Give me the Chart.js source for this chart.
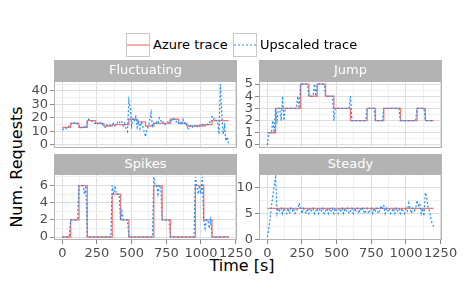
<!DOCTYPE html>
<html>
<head>
<meta charset="utf-8">
<script src="https://cdn.jsdelivr.net/npm/chart.js@4.4.1/dist/chart.umd.min.js"></script>
<style>
  html, body { margin: 0; padding: 0; background: #fff; }
  #fig { position: relative; width: 465px; height: 291px; overflow: hidden; font-family: 'DejaVu Sans', sans-serif; }
  #fig canvas { position: absolute; }
  .strip { position: absolute; background: #b3b3b3; color: #fff; font-size: 13px; text-align: center; z-index: 2; }
  .title { position: absolute; font-size: 16px; color: #000; white-space: nowrap; }
  .key { position: absolute; }
  .keytext { position: absolute; font-size: 13px; color: #000; line-height: 24px; white-space: nowrap; }
</style>
</head>
<body>
<div id="fig">
  <div class="title" id="ytitle" style="left:16px;top:167px;transform:translate(-50%,-50%) rotate(-90deg);">Num. Requests</div>
  <div class="title" style="left:242px;top:265px;transform:translate(-50%,-50%);">Time [s]</div>
</div>
<script>
// series names + colours
const seriesNames = ['Azure trace', 'Upscaled trace'];
const azureColor = '#F8766D';
const upscaledColor = '#1E90FF';

// shared time axis
const timeTicks = [0, 250, 500, 750, 1000, 1250];
const timeMinor = [125, 375, 625, 875, 1125];
const azureStep = 60;     // azure trace: one value per minute
const upscaledStep = 10;  // upscaled trace: one value per 10 s

// Fluctuating
const fluctAzure = [13, 16, 13, 18, 16, 14, 15, 15, 19, 17, 14, 16, 16, 19, 16, 14, 14, 15, 18, 18];
const fluctUpscaled = [
  11, 12, 13, 12, 13, 14,   15, 16, 17, 16, 15, 16,   14, 12, 13, 12, 14, 13,
  17, 19, 18, 18, 17, 16,   16, 17, 15, 16, 17, 15,   14, 13, 15, 14, 15, 14,
  15, 16, 14, 15, 17, 16,   18, 17, 14, 16, 12, 10,   33, 27, 14, 20, 18, 21,
  13, 17, 12, 17, 14, 10,   6, 11, 14, 18, 24, 14,    16, 15, 17, 16, 20, 18,
  16, 17, 15, 16, 17, 16,   19, 18, 20, 19, 17, 18,   16, 17, 15, 19, 16, 17,
  13, 12, 14, 15, 13, 14,   14, 15, 13, 14, 16, 15,   15, 14, 16, 15, 17, 16,
  21, 19, 20, 18, 17, 8,    45, 22, 8, 14, 3, 6,      0
];
const fluctYTicks = [0, 10, 20, 30, 40];
const fluctYMinor = [5, 15, 25, 35, 45];

// Jump
const jumpAzure = [1, 3, 3, 3, 5, 4, 5, 4, 3, 3, 2, 2, 3, 2, 3, 3, 2, 2, 3, 2];
const jumpUpscaled = [
  0, 1, 1, 1, 2, 1,   3, 2, 3, 3, 2, 4,   2, 3, 3, 3, 3, 3,   3, 3, 3, 3, 4, 3,
  5, 5, 5, 5, 5, 5,   4, 4, 4, 4, 5, 4,   5, 5, 5, 5, 5, 5,   4, 4, 4, 4, 4, 4,
  2, 3, 3, 3, 3, 3,   3, 3, 3, 3, 3, 3,   4, 2, 2, 2, 2, 2,   2, 2, 2, 2, 2, 2,
  3, 3, 3, 3, 3, 3,   2, 2, 2, 2, 2, 2,   3, 3, 3, 3, 3, 3,   3, 3, 3, 3, 3, 3,
  2, 2, 2, 2, 2, 2,   2, 2, 2, 2, 2, 2,   3, 3, 3, 3, 3, 3,   2, 2, 2, 2, 2, 2,
  2
];
const jumpYTicks = [0, 1, 2, 3, 4, 5];
const jumpYMinor = [0.5, 1.5, 2.5, 3.5, 4.5];

// Spikes
const spikesAzure = [0, 2, 6, 0, 0, 0, 5, 2, 0, 0, 0, 6, 2, 0, 0, 0, 6, 2, 0, 0];
const spikesUpscaled = [
  0, 0, 0, 0, 0, 0,   2, 2, 2, 2, 2, 2,   6, 6, 6, 6, 5, 6,   0, 0, 0, 0, 0, 0,
  0, 0, 0, 0, 0, 0,   0, 0, 0, 0, 0, 0,   6, 5, 6, 5, 5, 5,   2, 3, 2, 2, 2, 2,
  0, 0, 0, 0, 0, 0,   0, 0, 0, 0, 0, 0,   0, 0, 0, 0, 0, 0,   7, 6, 6, 5, 6, 6,
  2, 2, 2, 2, 2, 2,   0, 0, 0, 0, 0, 0,   0, 0, 0, 0, 0, 0,   0, 0, 0, 0, 0, 0,
  7, 6, 5, 6, 5, 7,   2, 1, 2, 2, 1, 2,   0, 0, 0, 0, 0, 0,   0, 0, 0, 0, 0, 0,
  0
];
const spikesYTicks = [0, 2, 4, 6];
const spikesYMinor = [1, 3, 5, 7];

// Steady
const steadyAzure = [6, 6, 6, 6, 6, 6, 6, 6, 6, 6, 6, 6, 6, 6, 6, 6, 6, 6, 6, 6];
const steadyUpscaled = [
  0.5, 2, 4, 6.5, 8.5, 10.5,   12, 5, 6, 5.5, 6, 5,     6, 5.5, 5, 6, 5, 6,
  5.5, 6, 5, 5.5, 6, 7,        6, 5, 6, 5.5, 5, 6,      5, 6, 5.5, 6, 5, 5.5,
  6, 5, 6, 5.5, 6, 5,          5.5, 6, 5, 6, 5.5, 6,    5, 6, 5.5, 5, 6, 5.5,
  6, 5, 6, 5.5, 6, 5,          5.5, 6, 5, 6, 5.5, 6,    5, 6, 5.5, 6, 5, 5.5,
  6, 5, 5.5, 6, 5, 6,          5.5, 6, 5, 5.5, 6.5, 6,  6.5, 5, 6, 5.5, 6, 5,
  5.5, 6, 5, 6, 5.5, 6,        5, 6, 5.5, 5, 6, 5.5,    7, 6, 5, 6, 5.5, 6,
  7.5, 6.5, 7, 5, 6, 4.5,      9, 8, 6, 5.5, 4, 3,      2.5
];
const steadyYTicks = [0, 5, 10];
const steadyYMinor = [2.5, 7.5, 12.5];

Chart.defaults.font.family = "'DejaVu Sans', sans-serif";
Chart.defaults.animation = false;

const tickFont = { size: 13 };
const tickColor = '#4d4d4d';
const gridMajor = '#dedede';
const gridMinor = '#f0f0f0';
const frameColor = '#b3b3b3';

// panel frame like ggplot theme_light
const panelBorder = {
  id: 'panelBorder',
  afterDraw(chart) {
    const a = chart.chartArea, c = chart.ctx;
    c.save();
    c.strokeStyle = frameColor;
    c.lineWidth = 1;
    c.strokeRect(Math.round(a.left) + 0.5, Math.round(a.top) + 0.5,
      Math.round(a.right - a.left) - 1, Math.round(a.bottom - a.top) - 1);
    c.restore();
  }
};

function axisOpts(major, minor, lims, showLabels, isX) {
  const all = major.concat(minor).sort((a, b) => a - b);
  return {
    type: 'linear',
    min: lims[0],
    max: lims[1],
    afterBuildTicks: s => { s.ticks = all.map(v => ({ value: v })); },
    afterFit: s => {
      if (isX) s.height = showLabels ? 26 : 0;
      else s.width = 40;
      s.paddingLeft = s.paddingRight = s.paddingTop = s.paddingBottom = 0;
    },
    ticks: {
      display: showLabels,
      autoSkip: false,
      maxRotation: 0,
      minRotation: 0,
      font: tickFont,
      color: tickColor,
      padding: 2,
      callback: v => major.includes(v) ? String(v) : ''
    },
    grid: {
      drawTicks: showLabels,
      tickLength: 4,
      lineWidth: 1,
      color: ctx => major.includes(ctx.tick.value) ? gridMajor : gridMinor,
      tickColor: ctx => major.includes(ctx.tick.value) ? '#8c8c8c' : 'rgba(0,0,0,0)'
    },
    border: { display: false }
  };
}

function expand(values) {
  const lo = Math.min(...values), hi = Math.max(...values);
  const pad = (hi - lo) * 0.05;
  return [lo - pad, hi + pad];
}

const fig = document.getElementById('fig');

function makePanel(p) {
  const padL = 0, yW = 40, padR = 24, padT = 14, padB = 4;
  const xH = p.bottomRow ? 26 : 0;
  const w = padL + yW + (p.right - p.left) + padR;
  const h = padT + (p.bottom - p.top) + xH + padB;

  const strip = document.createElement('div');
  strip.className = 'strip';
  strip.textContent = p.title;
  Object.assign(strip.style, {
    left: p.left + 'px', top: (p.top - p.stripH) + 'px',
    width: (p.right - p.left) + 'px', height: p.stripH + 'px', lineHeight: (p.stripH - 1) + 'px'
  });
  fig.appendChild(strip);

  const cv = document.createElement('canvas');
  cv.width = w; cv.height = h;
  cv.style.left = (p.left - yW - padL) + 'px';
  cv.style.top = (p.top - padT) + 'px';
  fig.appendChild(cv);

  // azure holds each minute's value until the next minute
  const azurePts = p.azure.map((v, i) => ({ x: i * azureStep, y: v }));
  azurePts.push({ x: p.azure.length * azureStep, y: p.azure[p.azure.length - 1] });
  const upPts = p.upscaled.map((v, i) => ({ x: i * upscaledStep, y: v }));

  new Chart(cv, {
    type: 'line',
    data: {
      datasets: [
        { label: seriesNames[1], data: upPts, borderColor: upscaledColor, borderWidth: 1.2,
          borderDash: [2, 2], pointRadius: 0, tension: 0 },
        { label: seriesNames[0], data: azurePts, borderColor: azureColor, borderWidth: 1.3,
          stepped: 'before', pointRadius: 0 }
      ]
    },
    options: {
      responsive: false,
      devicePixelRatio: 1,
      layout: { padding: { left: padL, right: padR, top: padT, bottom: padB } },
      plugins: { legend: { display: false }, tooltip: { enabled: false } },
      scales: {
        x: axisOpts(timeTicks, timeMinor, [-60, 1260], p.bottomRow, true),
        y: axisOpts(p.yTicks, p.yMinor, expand(p.upscaled.concat(p.azure)), true, false)
      }
    },
    plugins: [panelBorder]
  });
}

makePanel({ title: 'Fluctuating', azure: fluctAzure, upscaled: fluctUpscaled, yTicks: fluctYTicks, yMinor: fluctYMinor,
  left: 54, right: 237, top: 81, bottom: 148, stripH: 21, bottomRow: false });
makePanel({ title: 'Jump', azure: jumpAzure, upscaled: jumpUpscaled, yTicks: jumpYTicks, yMinor: jumpYMinor,
  left: 259, right: 442, top: 81, bottom: 148, stripH: 21, bottomRow: false });
makePanel({ title: 'Spikes', azure: spikesAzure, upscaled: spikesUpscaled, yTicks: spikesYTicks, yMinor: spikesYMinor,
  left: 54, right: 237, top: 174, bottom: 240, stripH: 20, bottomRow: true });
makePanel({ title: 'Steady', azure: steadyAzure, upscaled: steadyUpscaled, yTicks: steadyYTicks, yMinor: steadyYMinor,
  left: 259, right: 442, top: 174, bottom: 240, stripH: 20, bottomRow: true });

// legend
const legendItems = [
  { name: seriesNames[0], color: azureColor, dash: '', x: 126, tx: 153 },
  { name: seriesNames[1], color: upscaledColor, dash: '2,2', x: 233, tx: 260 }
];
legendItems.forEach(it => {
  const k = document.createElement('div');
  k.className = 'key';
  k.style.left = it.x + 'px'; k.style.top = '33px';
  k.innerHTML = `<svg width="24" height="24"><rect x="0.5" y="0.5" width="23" height="23" fill="#fff" stroke="#c8c8c8"/>` +
    `<line x1="1" y1="12" x2="23" y2="12" stroke="${it.color}" stroke-width="1.2" ${it.dash ? `stroke-dasharray="${it.dash}"` : ''}/></svg>`;
  fig.appendChild(k);
  const t = document.createElement('div');
  t.className = 'keytext';
  t.style.left = it.tx + 'px'; t.style.top = '33px';
  t.textContent = it.name;
  fig.appendChild(t);
});
</script>
</body>
</html>
